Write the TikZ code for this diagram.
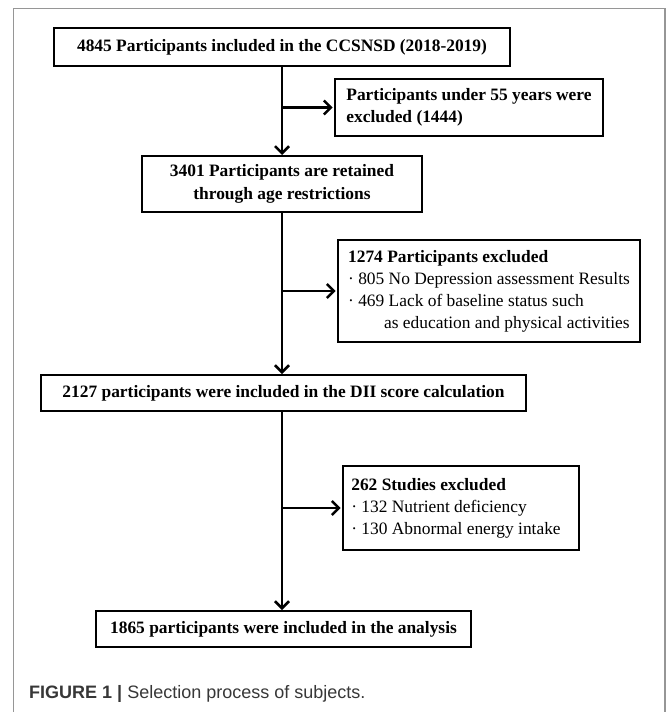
\documentclass[tikz,border=0pt]{standalone}
\usepackage{fontspec}
\setmainfont{Liberation Serif}
\newfontfamily\capfont{Liberation Sans}
\usetikzlibrary{arrows.meta}
\definecolor{framegray}{RGB}{150,150,150}
\definecolor{captext}{RGB}{55,55,55}
\begin{document}
\begin{tikzpicture}[x=1pt,y=-1pt,
  box/.style={draw, line width=2.8pt, rectangle, inner xsep=0pt, inner ysep=0pt,
    font=\fontsize{17.4}{22.5}\selectfont\bfseries, align=center},
  lbox/.style={draw, line width=2.8pt, rectangle, inner xsep=0pt, inner ysep=0pt,
    font=\fontsize{17.4}{22}\selectfont, align=left},
  flow/.style={line width=2.5pt, -{Straight Barb[length=7pt,width=14pt]}}
]
\useasboundingbox (0,0) rectangle (669,712);
\draw[framegray, line width=1.3pt] (13.5,712) -- (13.5,8.5) -- (665,8.5) -- (665,712);

\node[box, minimum width=456pt, minimum height=38pt] (b1) at (282,47)
  {4845 Participants included in the CCSNSD (2018-2019)};
\node[lbox, font=\fontsize{17.4}{22}\selectfont\bfseries,
  minimum width=268pt, minimum height=57pt] (b2) at (469,107.5)
  {Participants under 55 years were\\excluded (1444)};
\node[box, minimum width=280pt, minimum height=56pt] (b3) at (282,184)
  {3401 Participants are retained\\through age restrictions};
\node[lbox, minimum width=302pt, minimum height=102pt] (b4) at (489,291)
  {\textbf{1274 Participants excluded}\\
   · 805 No Depression assessment Results\\
   · 469 Lack of baseline status such\\
   \hspace*{36pt}as education and physical activities};
\node[box, minimum width=485pt, minimum height=36pt] (b5) at (283.5,393)
  {2127 participants were included in the DII score calculation};
\node[lbox, minimum width=236pt, minimum height=84pt] (b6) at (461,508)
  {\textbf{262 Studies excluded}\\
   · 132 Nutrient deficiency\\
   · 130 Abnormal energy intake\hspace*{10pt}};
\node[box, minimum width=375pt, minimum height=36pt] (b7) at (283.5,629)
  {1865 participants were included in the analysis};

\coordinate (t1) at (282,66);
\coordinate (t3) at (282,155);
\coordinate (s3) at (282,212);
\coordinate (t5) at (282,374);
\coordinate (s5) at (282,411);
\coordinate (t7) at (282,610);

\draw[flow] (t1) -- (t3);
\draw[flow] (t1 |- b2.west) -- ([xshift=-1pt]b2.west);
\draw[flow] (s3) -- (t5);
\draw[flow] (s3 |- b4.west) -- ([xshift=-1pt]b4.west);
\draw[flow] (s5) -- (t7);
\draw[flow] (s5 |- b6.west) -- ([xshift=-1pt]b6.west);

\node[anchor=base west, inner sep=0pt, text=captext,
  font=\capfont\fontsize{18}{18}\selectfont] (cap) at (29,698.5)
  {\textbf{FIGURE 1 |} Selection process of subjects.};
\end{tikzpicture}
\end{document}
